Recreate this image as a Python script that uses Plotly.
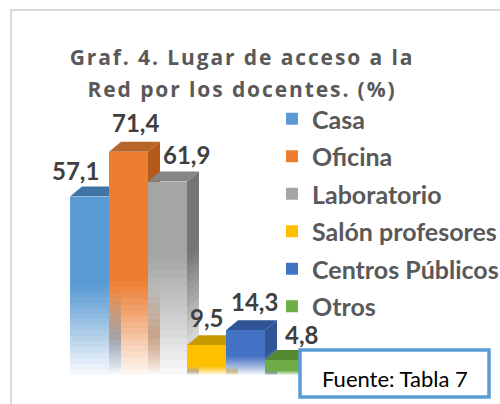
import plotly.graph_objects as go

categories = ["Casa", "Oficina", "Laboratorio", "Salón profesores", "Centros Públicos", "Otros"]
values = [57.1, 71.4, 61.9, 9.5, 14.3, 4.8]
value_labels = ["57,1", "71,4", "61,9", "9,5", "14,3", "4,8"]
front_colors = ["#5b9bd5", "#ed7d31", "#a5a5a5", "#ffc000", "#4472c4", "#70ad47"]
side_colors = ["#3f75a6", "#b35a1c", "#757575", "#bf9000", "#2f5597", "#4e8030"]
top_colors = ["#3f75a6", "#b8652a", "#858585", "#c89a00", "#2f5597", "#558a33"]
fade_fraction = [0.5, 0.42, 0.62, 0.3, 0.42, 0.3]
label_shift_x = [-14, 7, 19, 0, 9, 17]
label_shift_y = [10, 13, 11, 11, 12, 9]

W, H = 500, 404
L, R, T, B = 70, 304, 125, 375
PX_X = (R - L) / 6
PX_Y = (B - T) / 80
DX, DY = 12 / PX_X, 10 / PX_Y
BANDS = 16


def to_paper_x(px):
    return (px - L) / (R - L)


def to_paper_y(px):
    return (B - px) / (B - T)


def rect_path(x0, x1, hi):
    return f"M{x0},0 L{x1},0 L{x1},{hi} L{x0},{hi} Z"


def side_path(x1, lo, hi):
    return f"M{x1},{lo} L{x1+DX},{lo+DY} L{x1+DX},{hi+DY} L{x1},{hi} Z"


def nested(path_fn, color, y_top, max_alpha, layer):
    """Overlapping layers whose combined opacity rises smoothly towards the base."""
    out = []
    prev_t = 1.0
    for b in range(BANDS - 1, -1, -1):
        alpha = max_alpha * (1 - (b + 0.5) / BANDS)
        t = 1 - alpha
        o = 1 - t / prev_t
        prev_t = t
        out.append(dict(type="path", layer=layer, line_width=0, fillcolor=color, opacity=o,
                        path=path_fn(y_top * (b + 1) / BANDS)))
    return out


fig = go.Figure()
shapes = []
annotations = []

for i, (c, v) in enumerate(zip(categories, values)):
    fig.add_trace(go.Bar(x=[i], y=[v], name=c, width=1, legendgroup=c,
                         marker=dict(color=front_colors[i], line=dict(width=0))))
    x0, x1 = i - 0.5, i + 0.5
    f = fade_fraction[i]
    top = f * v
    shapes.append(dict(type="path", layer="below", line_width=0, fillcolor=top_colors[i],
                       path=f"M{x0},{v} L{x0+DX},{v+DY} L{x1+DX},{v+DY} L{x1},{v} Z"))
    shapes.append(dict(type="path", layer="below", line_width=0, fillcolor=side_colors[i],
                       path=side_path(x1, 0, v)))
    shapes += nested(lambda h, a=x1: side_path(a, 0, h), "#ffffff", top, 1.0, "below")
    shapes += nested(lambda h, a=x0, b=x1: rect_path(a, b, h), "#ffffff", top, 0.96, "above")
    if i > 0:
        strip_top = min(top, values[i - 1] * fade_fraction[i - 1] * 0.95)
        shapes += nested(lambda h, a=x0: rect_path(a, a + DX, h), side_colors[i - 1], strip_top, 0.75, "above")
        shapes += nested(lambda h, a=x0: rect_path(a, a + DX, h), "#ffffff", strip_top * 0.45, 0.98, "above")
    annotations.append(dict(x=i, y=v, xref="x", yref="y", text=f"<b>{value_labels[i]}</b>",
                            showarrow=False, xanchor="center", yanchor="bottom",
                            xshift=label_shift_x[i], yshift=label_shift_y[i],
                            font=dict(family="Lato", size=24, color="#404040")))

shapes.append(dict(type="path", layer="above", xref="paper", yref="paper",
                   line=dict(color="#d9d9d9", width=2),
                   path=f"M{to_paper_x(11)},{to_paper_y(404)} L{to_paper_x(11)},{to_paper_y(10)} L{to_paper_x(500)},{to_paper_y(10)}"))
shapes.append(dict(type="rect", layer="above", xref="paper", yref="paper",
                   x0=to_paper_x(300), x1=to_paper_x(489), y0=to_paper_y(397), y1=to_paper_y(350),
                   fillcolor="white", line=dict(color="#5b9bd5", width=3.5)))
annotations.append(dict(x=to_paper_x(395), y=to_paper_y(378), xref="paper", yref="paper",
                        text="Fuente: Tabla 7", showarrow=False, xanchor="center", yanchor="middle",
                        font=dict(family="Lato", size=22, color="#000000")))

fig.update_layout(
    width=W, height=H,
    margin=dict(l=L, r=W - R, t=T, b=H - B, autoexpand=False),
    paper_bgcolor="white", plot_bgcolor="rgba(0,0,0,0)",
    barmode="overlay", bargap=0,
    title=dict(text="<b>Graf. 4. Lugar de acceso a la<br>Red por los docentes. (%)</b>",
               x=242 / W, xanchor="center", y=1 - 65 / H, yanchor="middle", automargin=False,
               font=dict(family="Open Sans", size=21, color="#595959")),
    xaxis=dict(visible=False, range=[-0.5, 5.5], fixedrange=True),
    yaxis=dict(visible=False, range=[0, 80], fixedrange=True),
    showlegend=True,
    legend=dict(x=to_paper_x(272), xanchor="left", y=to_paper_y(96), yanchor="top",
                bgcolor="rgba(0,0,0,0)", tracegroupgap=2, itemclick=False, itemdoubleclick=False,
                traceorder="grouped", maxheight=320,
                font=dict(family="Lato", size=25, color="#595959", weight="bold")),
    shapes=shapes, annotations=annotations,
)

fig.write_html("out.html", config={"displayModeBar": False},
               post_script="document.body.style.margin='0';document.querySelectorAll('.gtitle').forEach(function(e){e.style.letterSpacing='1.9px';var l=e.querySelectorAll('.line');if(l.length>1){l[1].setAttribute('y',parseFloat(l[1].getAttribute('y'))+5);}});")
